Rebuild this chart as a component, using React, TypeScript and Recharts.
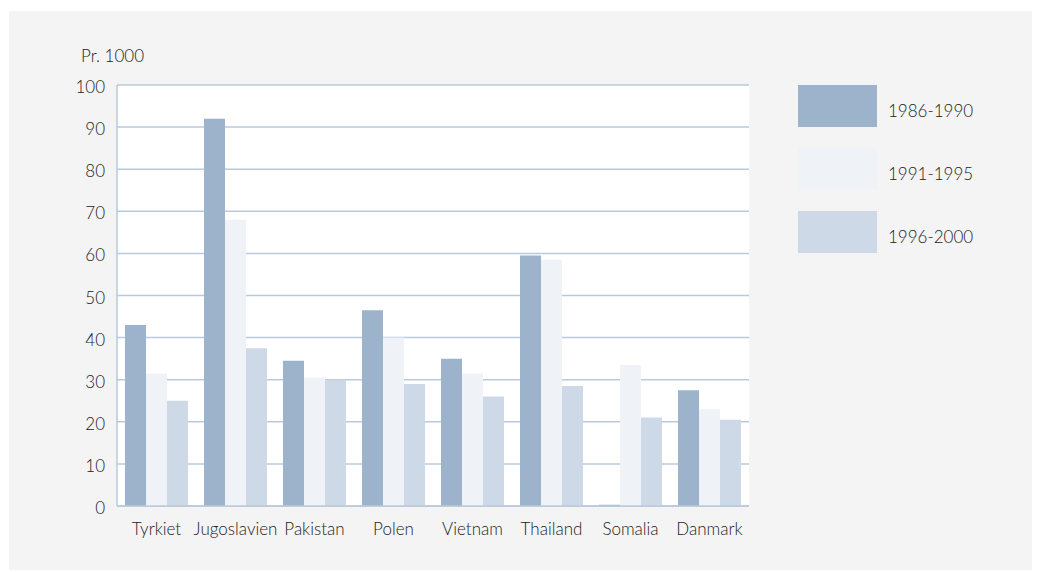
import React from "react";
import { BarChart, Bar, XAxis, YAxis, CartesianGrid } from "recharts";

const countries = ["Tyrkiet", "Jugoslavien", "Pakistan", "Polen", "Vietnam", "Thailand", "Somalia", "Danmark"];
const p1986 = [43, 92, 34.5, 46.5, 35, 59.5, 0.3, 27.5];
const p1991 = [31.5, 68, 30.5, 40, 31.5, 58.5, 33.5, 23];
const p1996 = [25, 37.5, 30, 29, 26, 28.5, 21, 20.5];
const yTicks = [0, 10, 20, 30, 40, 50, 60, 70, 80, 90, 100];

const series = [
  { key: "p1986", name: "1986-1990", color: "#9db3cc" },
  { key: "p1991", name: "1991-1995", color: "#eff3f7" },
  { key: "p1996", name: "1996-2000", color: "#cdd9e6" },
];

const data = countries.map((c, i) => ({ c, p1986: p1986[i], p1991: p1991[i], p1996: p1996[i] }));

const font = "Lato, 'Open Sans', sans-serif";
const border = "#b9cadd";
const textColor = "#222";
const tickStyle = { fontSize: 17, fill: textColor, fontFamily: font, fontWeight: 300 };

// legend sits outside the svg so it doesn't steal plot width
function LegendBox() {
  return (
    <div style={{ position: "absolute", left: 789, top: 74 }}>
      {series.map((s) => (
        <div key={s.key} style={{ display: "flex", alignItems: "center", height: 42, marginBottom: 21 }}>
          <div style={{ width: 79, height: 42, background: s.color }} />
          <span style={{ marginLeft: 11, fontSize: 17, color: textColor, fontWeight: 300, paddingTop: 8 }}>{s.name}</span>
        </div>
      ))}
    </div>
  );
}

export default function App() {
  return (
    <div style={{ position: "relative", margin: "3px 0 0 1px", width: 1023, height: 559, background: "#f4f4f4", fontFamily: font }}>
      <div style={{ position: "absolute", left: 72, top: 34, fontSize: 17, color: textColor, fontWeight: 300 }}>Pr. 1000</div>
      <LegendBox />
      <BarChart
        width={1023}
        height={559}
        data={data}
        margin={{ top: 74, right: 283, left: 48, bottom: 34 }}
        barCategoryGap={8}
        barGap={0}
      >
        <CartesianGrid vertical={false} stroke={border} strokeWidth={1.5} fill="#fff" fillOpacity={1} />
        <XAxis
          dataKey="c"
          axisLine={{ stroke: border, strokeWidth: 1.5 }}
          tickLine={false}
          tick={tickStyle}
          tickMargin={11}
          height={30}
          interval={0}
        />
        <YAxis
          domain={[0, 100]}
          ticks={yTicks}
          width={60}
          axisLine={{ stroke: border, strokeWidth: 1.5 }}
          tickLine={false}
          tick={{ ...tickStyle, dy: 2 }}
          tickMargin={6}
          interval={0}
        />
        <YAxis
          yAxisId="r"
          orientation="right"
          domain={[0, 100]}
          width={0}
          axisLine={{ stroke: border, strokeWidth: 1.5 }}
          tickLine={false}
          tick={false}
        />
        {series.map((s) => (
          <Bar key={s.key} dataKey={s.key} name={s.name} fill={s.color} isAnimationActive={false} />
        ))}
      </BarChart>
    </div>
  );
}
